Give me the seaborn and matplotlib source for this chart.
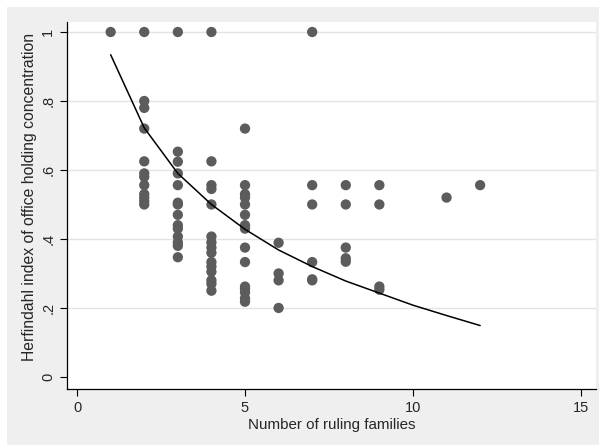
import pandas as pd
import numpy as np
import matplotlib
matplotlib.use("Agg")
import matplotlib.pyplot as plt
import seaborn as sns
from matplotlib.patches import Rectangle

# observed points, one list per number of ruling families
x1 = [1.0]
x2 = [1.0, 0.80, 0.78, 0.72, 0.625, 0.59, 0.58, 0.556, 0.53, 0.52, 0.51, 0.50]
x3 = [1.0, 0.653, 0.624, 0.59, 0.556, 0.505, 0.50, 0.47, 0.44, 0.43, 0.407, 0.39, 0.38, 0.347]
x4 = [1.0, 0.625, 0.556, 0.545, 0.50, 0.407, 0.39, 0.375, 0.36, 0.333, 0.32, 0.305, 0.28, 0.27, 0.25]
x5 = [0.72, 0.556, 0.53, 0.52, 0.50, 0.47, 0.44, 0.43, 0.375, 0.333, 0.262, 0.255, 0.245, 0.228, 0.218]
x6 = [0.389, 0.30, 0.28, 0.20]
x7 = [1.0, 0.556, 0.50, 0.333, 0.283, 0.28]
x8 = [0.556, 0.50, 0.375, 0.344, 0.334]
x9 = [0.556, 0.50, 0.262, 0.253]
x11 = [0.52]
x12 = [0.556]

families = [1, 2, 3, 4, 5, 6, 7, 8, 9, 11, 12]
herf_lists = [x1, x2, x3, x4, x5, x6, x7, x8, x9, x11, x12]

# fitted curve
fit_x = [1, 2, 3, 4, 5, 6, 7, 8, 9, 10, 11, 12]
fit_y = [0.934, 0.722, 0.59, 0.50, 0.428, 0.368, 0.32, 0.278, 0.243, 0.208, 0.178, 0.149]

rows = []
for f, vals in zip(families, herf_lists):
    for v in vals:
        rows.append({"families": f, "herf": v})
df = pd.DataFrame(rows)
fit = pd.DataFrame({"families": fit_x, "herf": fit_y})

sns.set_style("white")
plt.rcParams["font.family"] = ["Liberation Sans", "DejaVu Sans"]

W, H = 602, 445
bg = "#efefef"
fig = plt.figure(figsize=(W / 100, H / 100), dpi=100, facecolor="white")
# gray graph region (Stata style), white margin on left/top/right
fig.patches.append(Rectangle((7 / W, 0), (599 - 7) / W, (H - 7) / H,
                             transform=fig.transFigure, facecolor=bg,
                             edgecolor="none", zorder=-5))
ax = fig.add_axes([67 / W, 1 - 389 / H, (596 - 67) / W, (389 - 22) / H])
ax.set_zorder(2)
ax.set_facecolor("white")

sns.scatterplot(data=df, x="families", y="herf", ax=ax, color="#5c5c5c",
                s=55, edgecolor="none", zorder=3)
sns.lineplot(data=fit, x="families", y="herf", ax=ax, color="black",
             linewidth=1.1, zorder=4)

ax.set_xlim(-0.3, 15.45)
ax.set_ylim(-0.035, 1.029)
ax.set_xticks([0, 5, 10, 15])
ax.set_yticks([0, 0.2, 0.4, 0.6, 0.8, 1.0])
ax.set_yticklabels(["0", ".2", ".4", ".6", ".8", "1"], rotation=90, va="center")
for yv in [0.2, 0.4, 0.6, 0.8, 1.0]:
    ax.axhline(yv, color="#e3e3e3", linewidth=1.0, zorder=1)

for side in ["top", "right"]:
    ax.spines[side].set_visible(False)
for side in ["left", "bottom"]:
    ax.spines[side].set_color("black")
    ax.spines[side].set_linewidth(0.9)

ax.tick_params(axis="both", which="major", direction="out", length=5, width=0.8,
               color="black", labelsize=10.5, left=True, bottom=True)
ax.set_xlabel("Number of ruling families", fontsize=10.9, labelpad=2)
ax.set_ylabel("Herfindahl index of office holding concentration", fontsize=11.3, labelpad=3)
ax.yaxis.label.set_y(0.523)

fig.savefig("out.png", dpi=100, facecolor="white")
